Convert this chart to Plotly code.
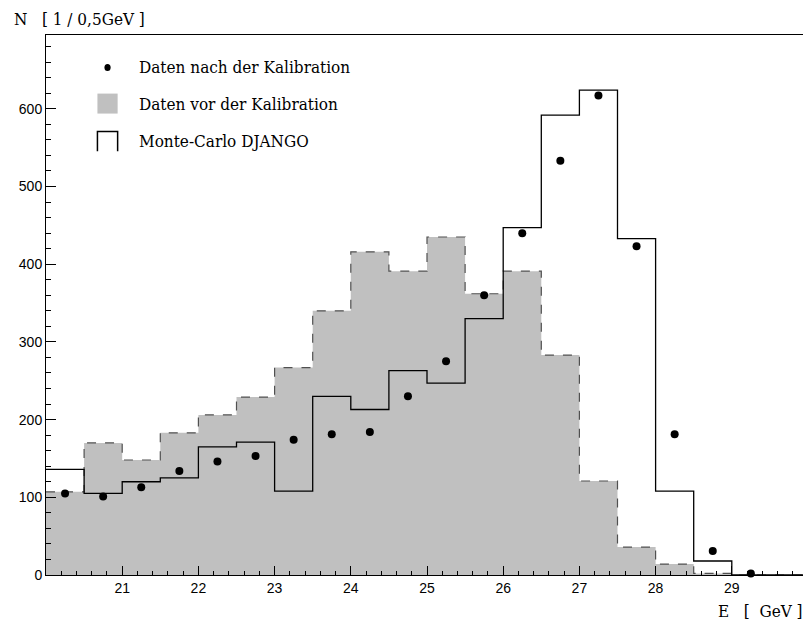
import plotly.graph_objects as go

# bins of 0.5 GeV from 20 to 30
bin_lo = [20.0, 20.5, 21.0, 21.5, 22.0, 22.5, 23.0, 23.5, 24.0, 24.5,
          25.0, 25.5, 26.0, 26.5, 27.0, 27.5, 28.0, 28.5, 29.0, 29.5]
bin_w = 0.5

vor_kal = [107, 170, 148, 183, 206, 229, 267, 340, 416, 391,
           435, 362, 391, 283, 121, 36, 14, 2, 0, 0]
mc_django = [136, 105, 120, 125, 165, 171, 108, 230, 213, 263,
             247, 330, 447, 592, 624, 433, 108, 18, 0, 0]
nach_kal = [105, 101, 113, 134, 146, 153, 174, 181, 184, 230,
            275, 360, 440, 533, 617, 423, 181, 31, 2, 0]

legend_names = ["Daten nach der Kalibration", "Daten vor der Kalibration", "Monte-Carlo DJANGO"]

edges = bin_lo + [bin_lo[-1] + bin_w]
centers = [x + bin_w / 2 for x in bin_lo]

serif = "DejaVu Serif Condensed, Liberation Serif, serif"

fig = go.Figure()

fig.add_trace(go.Scatter(
    x=edges, y=vor_kal + [vor_kal[-1]], mode="lines", line_shape="hv",
    fill="tozeroy", fillcolor="#c0c0c0",
    line=dict(color="#505050", width=1.2, dash="dash"),
    showlegend=False, hoverinfo="skip"))

fig.add_trace(go.Scatter(
    x=edges, y=mc_django + [mc_django[-1]], mode="lines", line_shape="hv",
    line=dict(color="black", width=1.3),
    showlegend=False, hoverinfo="skip"))

# drop the empty tail so no dots sit on the axis beyond the data
pts_x = [c for c, v in zip(centers, nach_kal) if v > 0]
pts_y = [v for v in nach_kal if v > 0]
fig.add_trace(go.Scatter(
    x=pts_x, y=pts_y, mode="markers",
    marker=dict(color="black", size=8),
    showlegend=False, cliponaxis=False))

# hand-made legend, like the PAW one
lx0, lx1 = 0.0675, 0.094
rows = [0.940, 0.873, 0.803]
hh = 0.0185
fig.add_shape(type="circle", xref="paper", yref="paper",
              x0=0.0767, x1=0.0848, y0=rows[0] - 0.0065, y1=rows[0] + 0.0065,
              fillcolor="black", line=dict(color="black", width=0))
fig.add_shape(type="rect", xref="paper", yref="paper",
              x0=lx0, x1=lx1, y0=rows[1] - hh, y1=rows[1] + hh,
              fillcolor="#c0c0c0", line=dict(width=0))
fig.add_shape(type="path", xref="paper", yref="paper",
              path=f"M {lx0},{rows[2]-hh} L {lx0},{rows[2]+hh} L {lx1},{rows[2]+hh} L {lx1},{rows[2]-hh}",
              line=dict(color="black", width=1.5))
for name, yy in zip(legend_names, rows):
    fig.add_annotation(x=0.12, y=yy, xref="paper", yref="paper", text=name,
                       showarrow=False, xanchor="left", yanchor="middle",
                       font=dict(family=serif, size=17, color="black"))

fig.add_annotation(x=-0.044, y=1.0305, xref="paper", yref="paper",
                   text="N   [ 1 / 0,5GeV ]", showarrow=False,
                   xanchor="left", yanchor="middle",
                   font=dict(family=serif, size=17, color="black"))
fig.add_annotation(x=0.996, y=-0.0666, xref="paper", yref="paper",
                   text="E   [  GeV ]", showarrow=False,
                   xanchor="right", yanchor="middle",
                   font=dict(family=serif, size=17, color="black"))

axis_common = dict(showline=True, linecolor="black", linewidth=1, mirror=True,
                   showgrid=False, zeroline=False, ticks="inside",
                   tickcolor="black", automargin=False,
                   tickfont=dict(family="Liberation Sans, Arial, sans-serif", size=14, color="black"))

fig.update_xaxes(range=[20, 30], tickvals=[21, 22, 23, 24, 25, 26, 27, 28, 29],
                 ticklen=9, minor=dict(ticks="inside", ticklen=4, dtick=0.2, tick0=20,
                                       tickcolor="black"),
                 **axis_common)
fig.update_yaxes(range=[0, 695], tickvals=[0, 100, 200, 300, 400, 500, 600],
                 ticklen=10, minor=dict(ticks="inside", ticklen=5, dtick=20, tick0=0,
                                        tickcolor="black"),
                 **axis_common)

# page body adds an 8px margin, so the figure is a bit smaller than the window
fig.update_layout(width=803, height=618,
                  margin=dict(l=37.5, r=3, t=26.5, b=51),
                  plot_bgcolor="white", paper_bgcolor="white",
                  showlegend=False)

fig.write_html("out.html")
